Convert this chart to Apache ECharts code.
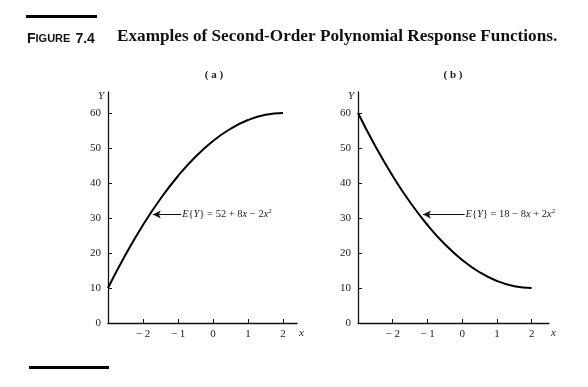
<!DOCTYPE html>
<html><head><meta charset="utf-8">
<script src="https://cdn.jsdelivr.net/npm/echarts@6/dist/echarts.min.js"></script>
<style>html,body{margin:0;padding:0;background:#fff}#c{width:588px;height:387px}</style>
</head><body><div id="c"></div>
<script>
// Data
const xValues = [-3, -2.5, -2, -1.5, -1, -0.5, 0, 0.5, 1, 1.5, 2];
const seriesA = [10, 19.5, 28, 35.5, 42, 47.5, 52, 55.5, 58, 59.5, 60];
const seriesB = [60, 50.5, 42, 34.5, 28, 22.5, 18, 14.5, 12, 10.5, 10];
const xTicks = [-2, -1, 0, 1, 2];
const yTicks = [0, 10, 20, 30, 40, 50, 60];
const panelTitles = ['( a )', '( b )'];
const annotA = {from: [-0.91, 31], to: [-1.72, 31]};
const annotB = {from: [0.07, 31], to: [-1.13, 31]};

const serif = '"Liberation Serif", "DejaVu Serif", serif';
const sans = '"Liberation Sans", Arial, sans-serif';

function pairs(xs, ys){ return xs.map((x,i)=>[x, ys[i]]); }

const eqRich = {
  i: {fontFamily: serif, fontSize: 10.5, fontStyle: 'italic', color: '#222'},
  s: {fontFamily: serif, fontSize: 7, color: '#222', verticalAlign: 'bottom', padding: [0,0,6,0]}
};
const eqA = '{i|E}{{i|Y}} = 52 + 8{i|x} \u2212 2{i|x}{s|2}';
const eqB = '{i|E}{{i|Y}} = 18 \u2212 8{i|x} + 2{i|x}{s|2}';

function xAxisCfg(gi, max){
  return {
    type: 'value', gridIndex: gi, min: -3, max: max,
    axisLine: {show: true, onZero: false, lineStyle: {color: '#111', width: 1.3}},
    axisTick: {show: true, inside: true, length: 4, customValues: xTicks, lineStyle: {color: '#111'}},
    axisLabel: {customValues: xTicks, margin: 6, fontFamily: serif, fontSize: 11, color: '#222',
      formatter: v => v < 0 ? '\u2212 ' + Math.abs(v) : String(v)},
    splitLine: {show: false},
    name: 'x', nameLocation: 'end', nameGap: 2,
    nameTextStyle: {fontFamily: serif, fontStyle: 'italic', fontSize: 11, color: '#222', verticalAlign: 'top', padding: [5,0,0,0]}
  };
}
function yAxisCfg(gi){
  return {
    type: 'value', gridIndex: gi, min: 0, max: 66,
    axisLine: {show: true, onZero: false, lineStyle: {color: '#111', width: 1.3}},
    axisTick: {show: true, inside: true, length: 4, customValues: yTicks, lineStyle: {color: '#111'}},
    axisLabel: {customValues: yTicks, margin: 7, fontFamily: serif, fontSize: 11, color: '#222'},
    splitLine: {show: false},
    name: 'Y', nameLocation: 'end', nameGap: -4,
    nameTextStyle: {fontFamily: serif, fontStyle: 'italic', fontSize: 11, color: '#222', align: 'right', verticalAlign: 'middle', padding: [0, 4, 0, 0]}
  };
}
function curve(gi, data, ann, eq){
  return {
    type: 'line', xAxisIndex: gi, yAxisIndex: gi, data: pairs(xValues, data),
    smooth: true, showSymbol: false, symbol: 'none',
    lineStyle: {color: '#000', width: 2},
    animation: false,
    markLine: {
      silent: true, animation: false, symbol: ['none', 'arrow'], symbolSize: [6, 8],
      lineStyle: {color: '#111', width: 1, type: 'solid'},
      label: {show: true, position: 'start', distance: 1, formatter: eq, rich: eqRich,
              fontFamily: serif, fontSize: 10.5, color: '#222'},
      data: [[{coord: ann.from}, {coord: ann.to}]]
    }
  };
}

const chart = echarts.init(document.getElementById('c'), null, {renderer: 'canvas'});
chart.setOption({
  backgroundColor: '#fff',
  animation: false,
  title: [
    {text: '{f|F}{s|IGURE} {f|7.4}', left: 27, top: 30, padding: 0,
     textStyle: {rich: {f: {fontFamily: sans, fontWeight: 'bold', fontSize: 14, color: '#111'},
                        s: {fontFamily: sans, fontWeight: 'bold', fontSize: 11, color: '#111'}}}},
    {text: 'Examples of Second-Order Polynomial Response Functions.', left: 117, top: 28, padding: 0,
     textStyle: {fontFamily: serif, fontWeight: 'bold', fontSize: 17.2, color: '#111'}},
    {text: panelTitles[0], left: 214, top: 70, padding: 0, textAlign: 'center',
     textStyle: {fontFamily: serif, fontWeight: 'bold', fontSize: 11, color: '#222'}},
    {text: panelTitles[1], left: 453, top: 70, padding: 0, textAlign: 'center',
     textStyle: {fontFamily: serif, fontWeight: 'bold', fontSize: 11, color: '#222'}}
  ],
  grid: [
    {left: 108, top: 92, width: 189, height: 231},
    {left: 358, top: 92, width: 191, height: 231}
  ],
  xAxis: [xAxisCfg(0, 2.4), xAxisCfg(1, 2.5)],
  yAxis: [yAxisCfg(0), yAxisCfg(1)],
  series: [curve(0, seriesA, annotA, eqA), curve(1, seriesB, annotB, eqB)],
  graphic: [
    {type: 'rect', left: 26, top: 15, shape: {width: 71, height: 3}, style: {fill: '#000'}},
    {type: 'rect', left: 29, top: 366, shape: {width: 80, height: 3}, style: {fill: '#000'}}
  ]
});
</script></body></html>
